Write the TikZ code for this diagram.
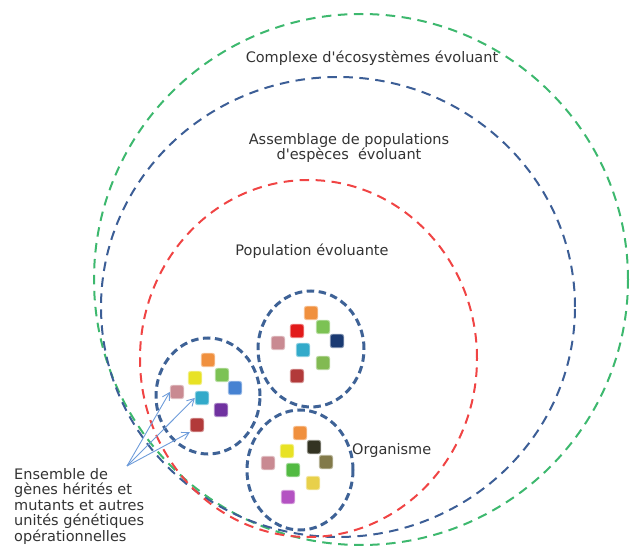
\documentclass[tikz,border=0pt]{standalone}
\usepackage{fontspec}
\newfontfamily\lblfont{DejaVu Sans}
\usetikzlibrary{shapes.geometric,arrows.meta}
\definecolor{ecogreen}{HTML}{3DB86E}
\definecolor{popblue}{HTML}{3C5E96}
\definecolor{popred}{HTML}{F04444}
\definecolor{orgblue}{HTML}{3E6296}
\definecolor{arrblue}{HTML}{6E9CDA}
\definecolor{txt}{HTML}{333333}
\definecolor{sqorange}{HTML}{F0903E}
\definecolor{sqyellow}{HTML}{E8E224}
\definecolor{sqgreen}{HTML}{7CC254}
\definecolor{sqpink}{HTML}{C98A92}
\definecolor{sqblue}{HTML}{4682D2}
\definecolor{sqcyan}{HTML}{32AACA}
\definecolor{sqpurple}{HTML}{7032A0}
\definecolor{sqdarkred}{HTML}{B23A3A}
\definecolor{sqred}{HTML}{E21A1A}
\definecolor{sqnavy}{HTML}{1A3A72}
\definecolor{sqgreenb}{HTML}{82BA52}
\definecolor{sqblack}{HTML}{333322}
\definecolor{sqolive}{HTML}{827A4A}
\definecolor{sqgreenc}{HTML}{52BA42}
\definecolor{sqyellowb}{HTML}{E8D04A}
\definecolor{sqviolet}{HTML}{B452C2}
\tikzset{
  outerring/.style={ellipse, inner sep=0pt, line width=2pt, dash pattern=on 9.5pt off 6.5pt},
  orgring/.style={ellipse, inner sep=0pt, draw=orgblue, line width=3pt, dash pattern=on 7.5pt off 4.5pt},
  gene/.style={rectangle, rounded corners=2.5pt, minimum size=13.5pt, inner sep=0pt, fill=#1, draw=#1!55!white, line width=0.9pt},
  lbl/.style={font=\lblfont\fontsize{14.5}{15.5}\selectfont, text=txt, inner sep=0pt},
  genearrow/.style={draw=arrblue, line width=0.9pt, -{Straight Barb[length=7pt,width=8pt]}}
}
\begin{document}
\begin{tikzpicture}[x=1pt,y=-1pt]
\useasboundingbox (0,0) rectangle (630,548);
% big rings
\node[outerring, draw=ecogreen, minimum width=534pt, minimum height=531pt] (eco) at (361,279.5) {};
\node[outerring, draw=popblue, minimum width=474pt, minimum height=460pt] (assem) at (338,307) {};
\node[outerring, draw=popred, minimum width=337pt, minimum height=357pt] (pop) at (308.5,358.5) {};
% organisms
\node[orgring, minimum width=104pt, minimum height=116pt] (orgA) at (208,396) {};
\node[orgring, minimum width=106pt, minimum height=116pt] (orgB) at (311,349) {};
\node[orgring, minimum width=106pt, minimum height=120pt] (orgC) at (300,470) {};
% genes of organism A
\node[gene=sqorange] (a1) at (208,360) {};
\node[gene=sqyellow] (a2) at (195,378) {};
\node[gene=sqgreen] (a3) at (222,375) {};
\node[gene=sqpink] (a4) at (177,392) {};
\node[gene=sqblue] (a5) at (235,388) {};
\node[gene=sqcyan] (a6) at (202,398) {};
\node[gene=sqpurple] (a7) at (221,410) {};
\node[gene=sqdarkred] (a8) at (197,425) {};
% genes of organism B
\node[gene=sqorange] (b1) at (311,313) {};
\node[gene=sqred] (b2) at (297,331) {};
\node[gene=sqgreen] (b3) at (323,327) {};
\node[gene=sqnavy] (b4) at (337,341) {};
\node[gene=sqpink] (b5) at (278,343) {};
\node[gene=sqcyan] (b6) at (303,350) {};
\node[gene=sqgreenb] (b7) at (323,363) {};
\node[gene=sqdarkred] (b8) at (297,376) {};
% genes of organism C
\node[gene=sqorange] (c1) at (300,433) {};
\node[gene=sqblack] (c2) at (314,447) {};
\node[gene=sqyellow] (c3) at (287,451) {};
\node[gene=sqolive] (c4) at (326,462) {};
\node[gene=sqpink] (c5) at (268,463) {};
\node[gene=sqgreenc] (c6) at (293,470) {};
\node[gene=sqyellowb] (c7) at (313,483) {};
\node[gene=sqviolet] (c8) at (288,497) {};
% labels
\node[lbl] (tEco) at (372,58) {Complexe d'écosystèmes évoluant};
\node[lbl, align=center] (tAssem) at (349,148) {Assemblage de populations\\d'espèces\ \ évoluant};
\node[lbl] (tPop) at (312,251) {Population évoluante};
\node[lbl, anchor=west] (tOrg) at (352,450) {Organisme};
\node[lbl, align=left, anchor=north west] (tGenes) at (14,468) {Ensemble de\\gènes hérités et\\mutants et autres\\unités génétiques\\opérationnelles};
% arrows
\coordinate (src) at (127,466);
\draw[genearrow] (src) -- (a4.west);
\draw[genearrow] (src) -- (a6.west);
\draw[genearrow] (src) -- (a8.south west);
\end{tikzpicture}
\end{document}
